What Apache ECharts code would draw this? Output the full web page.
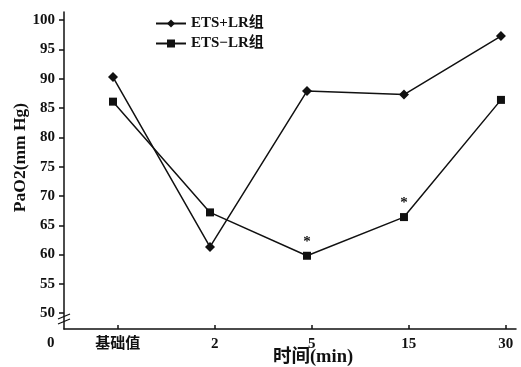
<!DOCTYPE html>
<html><head><meta charset="utf-8">
<script src="https://cdn.jsdelivr.net/npm/echarts@6/dist/echarts.min.js"></script>
<style>html,body{margin:0;padding:0;background:#fff}#c{width:521px;height:367px}</style>
</head><body><div id="c"></div>
<script>
var categories = ['基础值', '2', '5', '15', '30'];
var seriesNames = ['ETS+LR组', 'ETS\u2212LR组'];
var etsPlus = [90.3, 61.3, 87.9, 87.3, 97.3];
var etsMinus = [86.1, 67.2, 59.8, 66.4, 86.4];
var sigMarks = ['', '', '*', '*', ''];
var yTicks = [50, 55, 60, 65, 70, 75, 80, 85, 90, 95, 100];

var serif = '"Liberation Serif","DejaVu Serif","Noto Sans CJK SC",serif';
var chart = echarts.init(document.getElementById('c'));
var tickPos = categories.map(function(c, i){ return i + 0.05; });
function pts(arr){ return arr.map(function(v, i){ return [i, v]; }); }
chart.setOption({
  animation: false,
  backgroundColor: '#fff',
  grid: {left: 64, right: 5, top: 12, bottom: 38, containLabel: false, outerBoundsMode: 'none'},
  legend: {
    orient: 'vertical', left: 150, top: 11, itemWidth: 30, itemHeight: 10, itemGap: 5,
    textStyle: {fontFamily: serif, fontWeight: 'bold', fontSize: 15, color: '#111'},
    data: [seriesNames[0], seriesNames[1]]
  },
  xAxis: {
    type: 'value', min: -0.505, max: 4.155,
    name: '时间(min)', nameLocation: 'middle', nameGap: 19, nameMoveOverlap: false,
    nameTextStyle: {fontFamily: serif, fontWeight: 'bold', fontSize: 18.5, color: '#111', padding: [0, 0, 0, 46]},
    axisLine: {onZero: false, lineStyle: {color: '#111', width: 1.5}},
    axisTick: {inside: true, length: 4, customValues: tickPos, lineStyle: {color: '#111', width: 1.5}},
    axisLabel: {customValues: tickPos, margin: 8, fontFamily: serif, fontWeight: 'bold', fontSize: 15, color: '#111',
      formatter: function(v){ return categories[Math.round(v - 0.05)]; }},
    splitLine: {show: false}
  },
  yAxis: {
    type: 'value', min: 47.3, max: 101.4,
    name: 'PaO2(mm Hg)', nameLocation: 'middle', nameGap: 35, nameRotate: 90, nameMoveOverlap: false,
    nameTextStyle: {fontFamily: serif, fontWeight: 'bold', fontSize: 17.5, color: '#111', padding: [0, 0, 0, 26]},
    axisLine: {onZero: false, lineStyle: {color: '#111', width: 1.5}},
    axisTick: {length: 5, customValues: yTicks, lineStyle: {color: '#111', width: 1.5}},
    axisLabel: {customValues: yTicks, margin: 9, fontFamily: serif, fontWeight: 'bold', fontSize: 15, color: '#111'},
    splitLine: {show: false}
  },
  graphic: [
    {type: 'text', left: 47, top: 336, style: {text: '0', font: 'bold 15px ' + serif, fill: '#111'}},
    {type: 'line', shape: {x1: 58, y1: 319, x2: 70, y2: 314}, style: {stroke: '#111', lineWidth: 1.3}},
    {type: 'line', shape: {x1: 58, y1: 324, x2: 70, y2: 319}, style: {stroke: '#111', lineWidth: 1.3}}
  ],
  series: [
    {name: seriesNames[0], type: 'line', data: pts(etsPlus), symbol: 'diamond', symbolSize: 10,
     lineStyle: {color: '#111', width: 1.5}, itemStyle: {color: '#111'}},
    {name: seriesNames[1], type: 'line', data: pts(etsMinus), symbol: 'rect', symbolSize: 8,
     lineStyle: {color: '#111', width: 1.5}, itemStyle: {color: '#111'},
     label: {show: true, position: 'top', distance: 2, fontSize: 15, fontWeight: 'bold', fontFamily: serif, color: '#111',
       formatter: function(p){ return sigMarks[p.dataIndex]; }}}
  ]
});
</script></body></html>
